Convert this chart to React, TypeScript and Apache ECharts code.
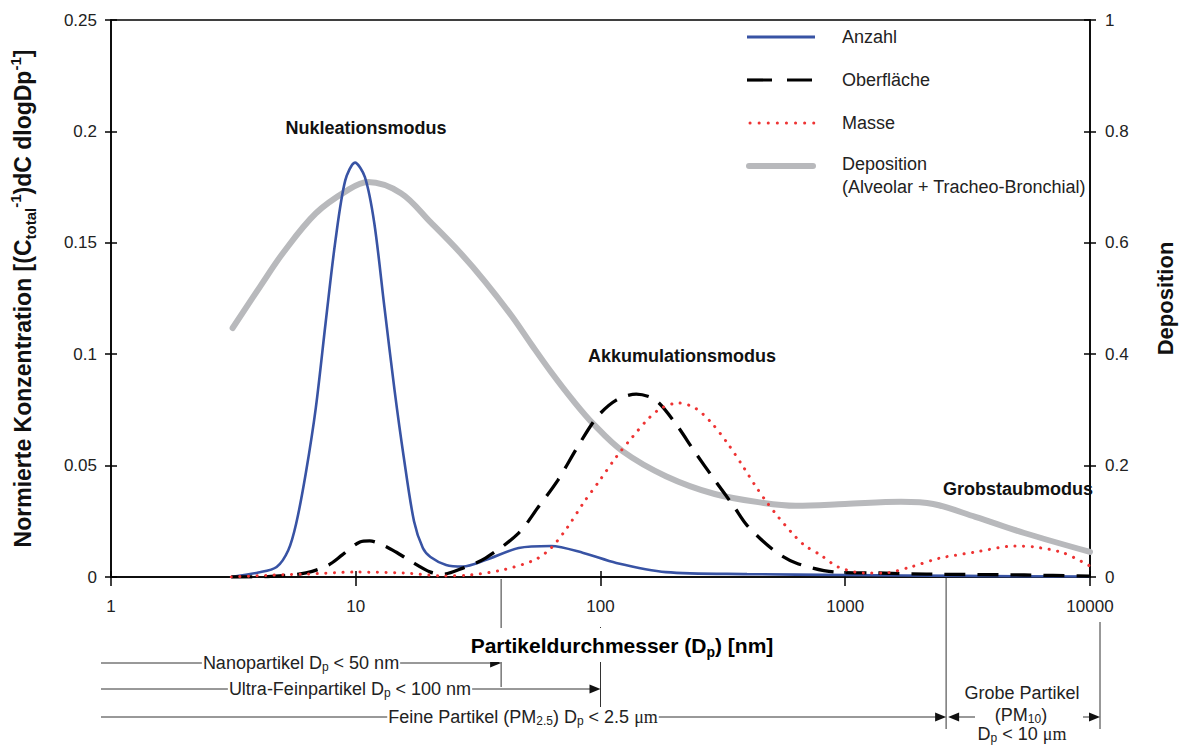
import { useEffect, useRef } from "react";
import * as echarts from "echarts";

// ---------- data ----------
const X_MIN = 1;
const X_MAX = 10000;
const LEFT_MAX = 0.25;
const LEFT_STEP = 0.05;
const RIGHT_MAX = 1;
const RIGHT_STEP = 0.2;

const anzahl: [number, number][] = [
  [3.1, 0], [4.0, 0.002], [4.75, 0.0045], [5.3, 0.012], [5.71, 0.024], [6.26, 0.047],
  [6.87, 0.076], [7.53, 0.114], [8.26, 0.151], [9.06, 0.178], [9.93, 0.186], [10.9, 0.1795],
  [11.9, 0.159], [13.1, 0.121], [14.4, 0.084], [15.7, 0.054], [17.3, 0.025], [18.8, 0.013],
  [20.2, 0.009], [23.4, 0.0054], [27.4, 0.0047], [33.9, 0.0076], [46.3, 0.013], [62.8, 0.0139],
  [85.1, 0.0108], [116, 0.0063], [185, 0.0022], [397, 0.0013], [1000, 0.0009], [3000, 0.0005],
  [10000, 0.0002],
];

const oberflaeche: [number, number][] = [
  [3.1, 0], [4.5, 0.0003], [6.26, 0.0018], [7.74, 0.0054], [8.81, 0.0099], [10.4, 0.0157],
  [11.4, 0.0162], [12.8, 0.0145], [14.6, 0.0112], [16.5, 0.0076], [20.2, 0.0022], [22.8, 0.0013],
  [27.4, 0.004], [33.9, 0.0085], [46.3, 0.0197], [55.7, 0.0314], [67, 0.0435], [80.5, 0.0583],
  [96.8, 0.0718], [116, 0.0794], [140, 0.0821], [168, 0.0794], [202, 0.0691], [243, 0.0561],
  [293, 0.0435], [352, 0.0314], [397, 0.0232], [509, 0.0121], [629, 0.0063], [910, 0.0022],
  [1352, 0.0018], [2144, 0.0013], [5390, 0.0009], [10000, 0.0004],
];

const masse: [number, number][] = [
  [3.1, 0], [4.5, 0.0008], [6.26, 0.0013], [9.93, 0.0022], [15.7, 0.0018], [22.8, 0.0005],
  [29.2, 0.0009], [39.6, 0.0031], [53.7, 0.0076], [62.8, 0.013], [73.4, 0.0224], [85.1, 0.0332],
  [99.5, 0.0435], [116, 0.0539], [135, 0.0628], [158, 0.0714], [178, 0.0759], [208, 0.0781],
  [243, 0.0759], [282, 0.0696], [330, 0.0601], [386, 0.0489], [427, 0.0413], [477, 0.0337],
  [533, 0.0269], [601, 0.0202], [678, 0.0144], [792, 0.0099], [935, 0.0045], [1199, 0.0018],
  [1442, 0.0018], [1850, 0.0045], [2440, 0.0085], [3402, 0.0112], [4918, 0.0139], [5915, 0.0135],
  [7797, 0.0108], [10000, 0.0049],
];

const deposition: [number, number][] = [
  [3.14, 0.447], [4.06, 0.521], [5.07, 0.583], [6.87, 0.653], [9.31, 0.695], [11.2, 0.709],
  [15.3, 0.689], [20.2, 0.637], [26.6, 0.583], [33.8, 0.53], [43.3, 0.469], [52.3, 0.417],
  [62.8, 0.368], [76.9, 0.318], [93.4, 0.275], [123, 0.226], [185, 0.181], [293, 0.149],
  [464, 0.133], [629, 0.128], [997, 0.131], [1688, 0.135], [2287, 0.131], [3400, 0.108],
  [5390, 0.079], [10000, 0.045],
];

const SERIES_NAMES = ["Anzahl", "Oberfläche", "Masse", "Deposition"];
const LEGEND_SUB = "(Alveolar + Tracheo-Bronchial)";
const MODE_LABELS = ["Nukleationsmodus", "Akkumulationsmodus", "Grobstaubmodus"];
// size class limits (nm) as drawn in the reference
const LIMIT_NANO = 40;
const LIMIT_ULTRA = 100;
const LIMIT_FINE = 2420;
const LIMIT_COARSE = 10000;

// ---------- layout ----------
const W = 1184;
const H = 745;
const GL = 101;
const GT = 20;
const GW = 999;
const GH = 557;
const FONT = "'Liberation Sans', Arial, Helvetica, sans-serif";
const SERIF = "'Liberation Serif', 'Times New Roman', serif";

const C_BLUE = "#3853a4";
const C_BLACK = "#000000";
const C_RED = "#ee3333";
const C_GRAY = "#b8b9bc";

const px = (v: number) => GL + (Math.log10(v) - Math.log10(X_MIN)) / (Math.log10(X_MAX) - Math.log10(X_MIN)) * GW;

export default function App() {
  const ref = useRef<HTMLDivElement>(null);
  useEffect(() => {
    document.body.style.margin = "0";
    const chart = echarts.init(ref.current!, null, { renderer: "svg" });

    const subRich = {
      t: { fontSize: 18, fontFamily: FONT, color: "#222", lineHeight: 20 },
      sub: { fontSize: 12, fontFamily: FONT, color: "#222", verticalAlign: "bottom", lineHeight: 12 },
      mu: { fontSize: 18, fontFamily: SERIF, color: "#222", lineHeight: 20 },
    };

    const lineC = "#333";
    const seg = (x1: number, y1: number, x2: number, y2: number, z = 5) => ({
      type: "line", z, shape: { x1, y1, x2, y2 }, style: { stroke: lineC, lineWidth: 1 }, silent: true,
    });
    const arrowR = (t: number, y: number) => ({
      type: "polygon", z: 6, shape: { points: [[t, y], [t - 11, y - 4.5], [t - 11, y + 4.5]] }, style: { fill: "#111" },
    });
    const arrowL = (t: number, y: number) => ({
      type: "polygon", z: 6, shape: { points: [[t, y], [t + 11, y - 4.5], [t + 11, y + 4.5]] }, style: { fill: "#111" },
    });
    const annText = (text: string, x: number, y: number, bg = true) => ({
      type: "text", z: 8, x, y,
      style: {
        text, align: "center", verticalAlign: "middle", fontSize: 18, fontFamily: FONT, fill: "#222",
        backgroundColor: bg ? "#fff" : undefined, padding: bg ? [0, 1] : 0, rich: subRich,
      },
    });

    const y1 = 663, y2 = 689, y3 = 717;
    const xNano = px(LIMIT_NANO), xUltra = px(LIMIT_ULTRA), xFine = px(LIMIT_FINE), xCoarse = px(LIMIT_COARSE);

    const legendY = [37, 80, 123, 166];
    const LX1 = 747, LX2 = 815, LTX = 842;

    const graphic: any[] = [
      // legend
      { type: "line", z: 10, shape: { x1: LX1, y1: legendY[0], x2: LX2, y2: legendY[0] }, style: { stroke: C_BLUE, lineWidth: 3 } },
      { type: "line", z: 10, shape: { x1: LX1, y1: legendY[1], x2: LX2, y2: legendY[1] }, style: { stroke: C_BLACK, lineWidth: 3.2, lineDash: [25, 15] } },
      { type: "line", z: 10, shape: { x1: LX1 + 3, y1: legendY[2], x2: LX2, y2: legendY[2] }, style: { stroke: C_RED, lineWidth: 3, lineDash: [0.1, 9], lineCap: "round" } },
      { type: "line", z: 10, shape: { x1: LX1 + 2, y1: legendY[3], x2: LX2 - 2, y2: legendY[3] }, style: { stroke: C_GRAY, lineWidth: 6, lineCap: "round" } },
      ...SERIES_NAMES.map((n, i) => ({
        type: "text", z: 10, x: LTX, y: legendY[i] - (i === 3 ? 2 : 0),
        style: { text: n, fontSize: 18, fontFamily: FONT, fill: "#222", verticalAlign: "middle" },
      })),
      { type: "text", z: 10, x: LTX, y: legendY[3] + 21, style: { text: LEGEND_SUB, fontSize: 18, fontFamily: FONT, fill: "#222", verticalAlign: "middle" } },

      // mode labels
      { type: "text", z: 10, x: 366, y: 128, style: { text: MODE_LABELS[0], fontSize: 18, fontWeight: "bold", fontFamily: FONT, fill: "#111", align: "center", verticalAlign: "middle" } },
      { type: "text", z: 10, x: 682, y: 356, style: { text: MODE_LABELS[1], fontSize: 18, fontWeight: "bold", fontFamily: FONT, fill: "#111", align: "center", verticalAlign: "middle" } },
      { type: "text", z: 10, x: 1018, y: 489, style: { text: MODE_LABELS[2], fontSize: 18, fontWeight: "bold", fontFamily: FONT, fill: "#111", align: "center", verticalAlign: "middle" } },

      // x axis name
      {
        type: "text", z: 9, x: 622, y: 645,
        style: {
          text: "{b|Partikeldurchmesser (D}{s|p}{b|) [nm]}", align: "center", verticalAlign: "middle",
          backgroundColor: "#fff", padding: [3, 2],
          rich: {
            b: { fontSize: 21, fontWeight: "bold", fontFamily: FONT, color: "#111", lineHeight: 28 },
            s: { fontSize: 14, fontWeight: "bold", fontFamily: FONT, color: "#111", verticalAlign: "bottom", lineHeight: 14 },
          },
        },
      },

      // vertical boundary lines
      seg(xNano, GT + GH + 2, xNano, 687),
      seg(xUltra, 627, xUltra, 707),
      seg(xFine, GT + GH + 1, xFine, 729),
      seg(xCoarse, 622, xCoarse, 729),

      // row 1: nano
      seg(GL, y1, xNano - 8, y1),
      arrowR(xNano, y1),
      annText("{t|Nanopartikel D}{sub|p}{t| < 50 nm}", 301, y1),
      // row 2: ultrafine
      seg(GL, y2, xUltra - 8, y2),
      arrowR(xUltra, y2),
      annText("{t|Ultra-Feinpartikel D}{sub|p}{t| < 100 nm}", 350, y2),
      // row 3: fine
      seg(GL, y3, xFine - 8, y3),
      arrowR(xFine, y3),
      annText("{t|Feine Partikel (PM}{sub|2.5}{t|) D}{sub|p}{t| < 2.5 }{mu|μm}", 523, y3),
      // coarse
      arrowL(xFine + 2, y3),
      seg(xFine + 10, y3, 975, y3),
      seg(1083, y3, xCoarse - 8, y3),
      arrowR(xCoarse, y3),
      annText("{t|Grobe Partikel}", 1022, 693, false),
      annText("{t|(PM}{sub|10}{t|)}", 1021, 715, false),
      annText("{t|D}{sub|p}{t| < 10 }{mu|μm}", 1022, 734, false),
    ];

    const axisLine = { show: true, lineStyle: { color: "#000", width: 1.5 } };
    const tickStyle = { color: "#000", width: 1.5 };
    const labelStyle = { fontSize: 17, fontFamily: FONT, color: "#222" };
    const fmtLog = (v: number) => String(Math.round(v));

    chart.setOption({
      animation: false,
      backgroundColor: "#fff",
      grid: { left: GL, top: GT, width: GW, height: GH, show: true, borderColor: "#000", borderWidth: 1.5, backgroundColor: "transparent" },
      xAxis: [
        {
          type: "log", logBase: 10, min: X_MIN, max: X_MAX,
          axisLine, axisTick: { show: true, inside: false, length: 9, lineStyle: tickStyle },
          axisLabel: { ...labelStyle, margin: 21, formatter: fmtLog },
          splitLine: { show: false }, minorTick: { show: false },
        },
        {
          type: "log", logBase: 10, min: X_MIN, max: X_MAX, position: "bottom",
          axisLine: { show: false }, axisTick: { show: true, inside: true, length: 6, lineStyle: tickStyle },
          axisLabel: { show: false }, splitLine: { show: false },
        },
      ],
      yAxis: [
        {
          type: "value", min: 0, max: LEFT_MAX, interval: LEFT_STEP, position: "left",
          name: "{b|Normierte Konzentration [(C}{s|total}{p|-1}{b|)dC dlogDp}{p|-1}{b|]}",
          nameLocation: "middle", nameGap: 73, nameRotate: 90,
          nameTextStyle: {
            rich: {
              b: { fontSize: 23, fontWeight: "bold", fontFamily: FONT, color: "#111", lineHeight: 30 },
              s: { fontSize: 15, fontWeight: "bold", fontFamily: FONT, color: "#111", verticalAlign: "bottom", lineHeight: 12 },
              p: { fontSize: 15, fontWeight: "bold", fontFamily: FONT, color: "#111", verticalAlign: "top", lineHeight: 14 },
            },
          },
          axisLine, axisTick: { show: true, inside: false, length: 6, lineStyle: tickStyle },
          axisLabel: { ...labelStyle, margin: 14 }, splitLine: { show: false },
        },
        {
          type: "value", min: 0, max: RIGHT_MAX, interval: RIGHT_STEP, position: "right",
          name: "Deposition", nameLocation: "middle", nameGap: 64, nameRotate: 90,
          nameTextStyle: { fontSize: 22, fontWeight: "bold", fontFamily: FONT, color: "#111" },
          axisLine, axisTick: { show: true, inside: false, length: 6, lineStyle: tickStyle },
          axisLabel: { ...labelStyle, margin: 15 }, splitLine: { show: false },
        },
        {
          type: "value", min: 0, max: LEFT_MAX, interval: LEFT_STEP, position: "left",
          axisLine: { show: false }, axisTick: { show: true, inside: true, length: 6, lineStyle: tickStyle },
          axisLabel: { show: false }, splitLine: { show: false },
        },
        {
          type: "value", min: 0, max: RIGHT_MAX, interval: RIGHT_STEP, position: "right",
          axisLine: { show: false }, axisTick: { show: true, inside: true, length: 6, lineStyle: tickStyle },
          axisLabel: { show: false }, splitLine: { show: false },
        },
      ],
      series: [
        {
          name: SERIES_NAMES[3], type: "line", yAxisIndex: 1, data: deposition, smooth: 0.35,
          showSymbol: false, symbol: "none", z: 1,
          lineStyle: { color: C_GRAY, width: 6, cap: "round" },
        },
        {
          name: SERIES_NAMES[0], type: "line", yAxisIndex: 0, data: anzahl, smooth: 0.3,
          showSymbol: false, symbol: "none", z: 3,
          lineStyle: { color: C_BLUE, width: 2.6 },
        },
        {
          name: SERIES_NAMES[1], type: "line", yAxisIndex: 0, data: oberflaeche, smooth: 0.3,
          showSymbol: false, symbol: "none", z: 4,
          lineStyle: { color: C_BLACK, width: 3.3, type: [21, 12] },
        },
        {
          name: SERIES_NAMES[2], type: "line", yAxisIndex: 0, data: masse, smooth: 0.3,
          showSymbol: false, symbol: "none", z: 5,
          lineStyle: { color: C_RED, width: 3, type: [0.1, 8.5], cap: "round" },
        },
      ],
      graphic,
    });

    return () => chart.dispose();
  }, []);
  return <div ref={ref} style={{ position: "fixed", left: 0, top: 0, width: W, height: H, background: "#fff" }} />;
}
